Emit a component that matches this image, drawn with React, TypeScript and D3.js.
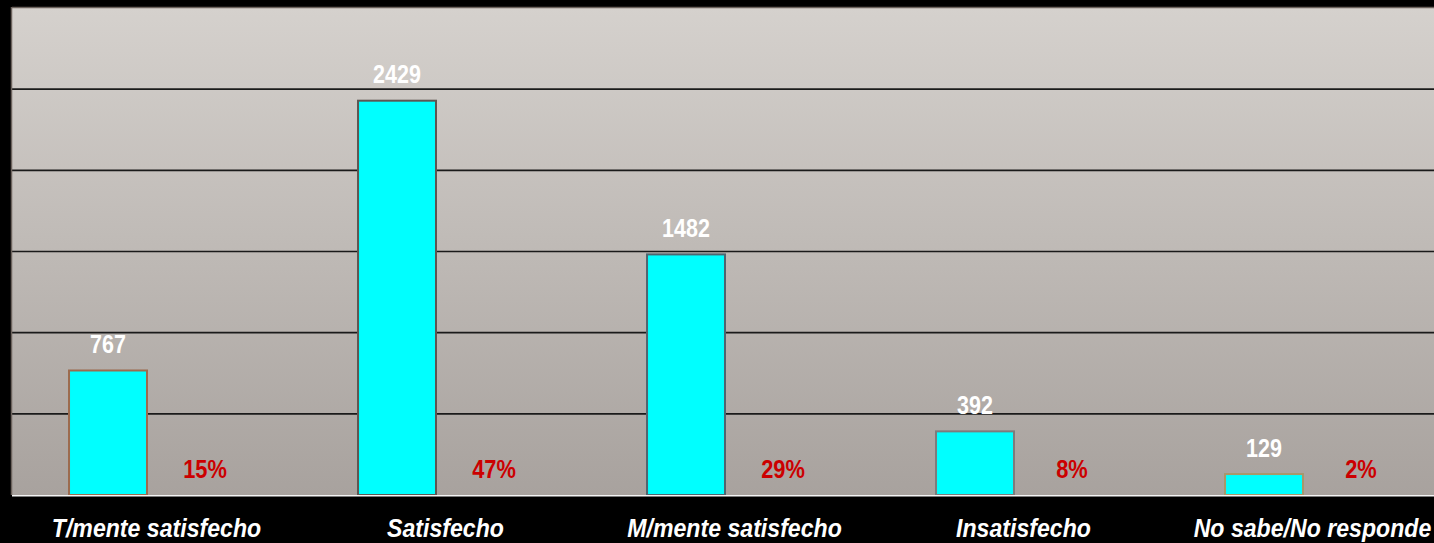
import React, { useEffect } from "react";
import * as d3 from "d3";

const categories = [
  "T/mente satisfecho",
  "Satisfecho",
  "M/mente satisfecho",
  "Insatisfecho",
  "No sabe/No responde",
];
const counts = [767, 2429, 1482, 392, 129];
const percents = [15, 47, 29, 8, 2];
const gridTicks = [0, 500, 1000, 1500, 2000, 2500, 3000];
const barBorders = ["#9c6b4e", "#5e5652", "#4f6570", "#7c7c7c", "#a8986a"];
const titleText = "Grado de satisfacción (respuestas por categoría y porcentaje)";

const W = 1434;
const H = 543;
const plotLeft = 12;
const plotTop = 8;
const plotBottom = 495;
const plotRight = 1457;

export default function App() {
  useEffect(() => {
    document.body.style.margin = "0";
    document.body.style.background = "#000";
  }, []);

  const x = d3.scaleBand<string>().domain(categories).range([plotLeft, plotRight]).padding(0);
  const inner = d3
    .scaleBand<string>()
    .domain(["count", "pct"])
    .range([0, x.bandwidth()])
    .paddingInner(0.196)
    .paddingOuter(0.588);
  const y = d3.scaleLinear().domain([0, 3000]).range([plotBottom, plotTop]);

  const font = "'Liberation Sans', Arial, sans-serif";

  return (
    <svg width={W} height={H} style={{ display: "block", background: "#000" }}>
      <defs>
        <linearGradient id="bg" x1="0" y1="0" x2="0" y2="1">
          <stop offset="0%" stopColor="#d5d1cd" />
          <stop offset="100%" stopColor="#a8a29e" />
        </linearGradient>
      </defs>
      <rect x={0} y={0} width={W} height={H} fill="#000" />
      <text
        x={740}
        y={-5}
        textAnchor="middle"
        fill="#fff"
        fontFamily={font}
        fontWeight="bold"
        fontSize={24}
      >
        {titleText}
      </text>
      <rect
        x={plotLeft}
        y={plotTop}
        width={plotRight - plotLeft}
        height={plotBottom - plotTop}
        fill="url(#bg)"
      />
      {gridTicks
        .filter((t) => t > 0 && t < 3000)
        .map((t) => (
          <line
            key={t}
            x1={plotLeft}
            x2={plotRight}
            y1={y(t)}
            y2={y(t)}
            stroke="#1a1a1a"
            strokeWidth={1.6}
          />
        ))}
      <line x1={plotLeft} x2={plotRight} y1={y(3000) - 0.5} y2={y(3000) - 0.5} stroke="#6b625c" strokeWidth={1.5} />
      <line x1={plotLeft - 0.5} x2={plotLeft - 0.5} y1={plotTop - 1} y2={plotBottom} stroke="#6b625c" strokeWidth={1.5} />
      {categories.map((c, i) => {
        const bx = (x(c) ?? 0) + (inner("count") ?? 0);
        const bw = inner.bandwidth();
        const top = y(counts[i]);
        const px = (x(c) ?? 0) + (inner("pct") ?? 0) + bw / 2;
        return (
          <g key={c}>
            <rect
              x={bx}
              y={top}
              width={bw}
              height={plotBottom - top}
              fill="#00ffff"
              stroke={barBorders[i]}
              strokeWidth={2}
            />
            <text
              transform={`translate(${bx + bw / 2},${top - 17.5}) scale(0.86,1)`}
              textAnchor="middle"
              fill="#fff"
              fontFamily={font}
              fontWeight="bold"
              fontSize={25}
            >
              {counts[i]}
            </text>
            <text
              transform={`translate(${px},${y(percents[i] / 100) - 16.5}) scale(0.84,1)`}
              textAnchor="middle"
              fill="#cc0000"
              fontFamily={font}
              fontWeight="bold"
              fontSize={26}
            >
              {percents[i]}%
            </text>
            <text
              transform={`translate(${(x(c) ?? 0) + x.bandwidth() / 2},537) scale(0.925,1)`}
              textAnchor="middle"
              fill="#fff"
              fontFamily={font}
              fontWeight="bold"
              fontStyle="italic"
              fontSize={25}
            >
              {c}
            </text>
          </g>
        );
      })}
      <line x1={plotLeft} x2={plotRight} y1={plotBottom + 0.8} y2={plotBottom + 0.8} stroke="#f4f4f4" strokeWidth={1.6} />
    </svg>
  );
}
